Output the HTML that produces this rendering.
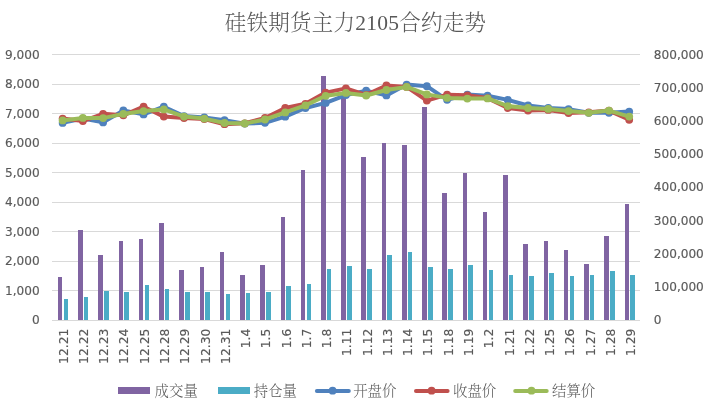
<!DOCTYPE html>
<html lang="zh"><head><meta charset="utf-8"><title>硅铁期货主力2105合约走势</title>
<style>html,body{margin:0;padding:0;background:#fff}svg{display:block}</style></head>
<body>
<svg width="709" height="406" viewBox="0 0 709 406">
<rect width="709" height="406" fill="#fff"/>
<g fill="#D9D9D9" shape-rendering="crispEdges">
<rect x="52.0" y="320" width="588.0" height="1"/>
<rect x="52.0" y="290" width="588.0" height="1"/>
<rect x="52.0" y="261" width="588.0" height="1"/>
<rect x="52.0" y="231" width="588.0" height="1"/>
<rect x="52.0" y="202" width="588.0" height="1"/>
<rect x="52.0" y="172" width="588.0" height="1"/>
<rect x="52.0" y="143" width="588.0" height="1"/>
<rect x="52.0" y="113" width="588.0" height="1"/>
<rect x="52.0" y="84" width="588.0" height="1"/>
<rect x="52.0" y="54" width="588.0" height="1"/>
</g>
<g fill="#8064A2" shape-rendering="crispEdges">
<rect x="58" y="277" width="4" height="43"/>
<rect x="78" y="230" width="5" height="90"/>
<rect x="98" y="255" width="5" height="65"/>
<rect x="119" y="241" width="4" height="79"/>
<rect x="139" y="239" width="4" height="81"/>
<rect x="159" y="223" width="5" height="97"/>
<rect x="179" y="270" width="5" height="50"/>
<rect x="200" y="267" width="4" height="53"/>
<rect x="220" y="252" width="4" height="68"/>
<rect x="240" y="275" width="5" height="45"/>
<rect x="260" y="265" width="5" height="55"/>
<rect x="281" y="217" width="4" height="103"/>
<rect x="301" y="170" width="4" height="150"/>
<rect x="321" y="76" width="5" height="244"/>
<rect x="341" y="96" width="5" height="224"/>
<rect x="361" y="157" width="5" height="163"/>
<rect x="382" y="143" width="4" height="177"/>
<rect x="402" y="145" width="5" height="175"/>
<rect x="422" y="107" width="5" height="213"/>
<rect x="442" y="193" width="5" height="127"/>
<rect x="463" y="173" width="4" height="147"/>
<rect x="483" y="212" width="4" height="108"/>
<rect x="503" y="175" width="5" height="145"/>
<rect x="523" y="244" width="5" height="76"/>
<rect x="544" y="241" width="4" height="79"/>
<rect x="564" y="250" width="4" height="70"/>
<rect x="584" y="264" width="5" height="56"/>
<rect x="604" y="236" width="5" height="84"/>
<rect x="625" y="204" width="4" height="116"/>
</g>
<g fill="#4BACC6" shape-rendering="crispEdges">
<rect x="64" y="299" width="4" height="21"/>
<rect x="84" y="297" width="4" height="23"/>
<rect x="104" y="291" width="5" height="29"/>
<rect x="124" y="292" width="5" height="28"/>
<rect x="145" y="285" width="4" height="35"/>
<rect x="165" y="289" width="4" height="31"/>
<rect x="185" y="292" width="5" height="28"/>
<rect x="205" y="292" width="5" height="28"/>
<rect x="226" y="294" width="4" height="26"/>
<rect x="246" y="293" width="4" height="27"/>
<rect x="266" y="292" width="5" height="28"/>
<rect x="286" y="286" width="5" height="34"/>
<rect x="307" y="284" width="4" height="36"/>
<rect x="327" y="269" width="4" height="51"/>
<rect x="347" y="266" width="5" height="54"/>
<rect x="367" y="269" width="5" height="51"/>
<rect x="387" y="255" width="5" height="65"/>
<rect x="408" y="252" width="4" height="68"/>
<rect x="428" y="267" width="5" height="53"/>
<rect x="448" y="269" width="5" height="51"/>
<rect x="468" y="265" width="5" height="55"/>
<rect x="489" y="270" width="4" height="50"/>
<rect x="509" y="275" width="4" height="45"/>
<rect x="529" y="276" width="5" height="44"/>
<rect x="549" y="273" width="5" height="47"/>
<rect x="570" y="276" width="4" height="44"/>
<rect x="590" y="275" width="4" height="45"/>
<rect x="610" y="271" width="5" height="49"/>
<rect x="630" y="275" width="5" height="45"/>
</g>
<g fill="#4F81BD" stroke="none">
<polyline points="62.63,122.9 82.87,118.6 103.10,122.4 123.34,110.5 143.57,114.4 163.81,106.7 184.04,116.1 204.27,117.4 224.51,120.2 244.75,123.6 264.98,122.8 285.21,116.7 305.45,108.0 325.69,102.9 345.92,95.1 366.15,90.7 386.39,95.4 406.62,84.6 426.86,86.2 447.09,99.8 467.33,94.6 487.56,95.7 507.80,99.9 528.03,105.5 548.27,107.9 568.50,109.1 588.74,112.8 608.98,112.8 629.21,111.6" fill="none" stroke="#4F81BD" stroke-width="4.0" stroke-linejoin="round" stroke-linecap="round"/>
<circle cx="62.63" cy="122.9" r="3.9"/>
<circle cx="82.87" cy="118.6" r="3.9"/>
<circle cx="103.10" cy="122.4" r="3.9"/>
<circle cx="123.34" cy="110.5" r="3.9"/>
<circle cx="143.57" cy="114.4" r="3.9"/>
<circle cx="163.81" cy="106.7" r="3.9"/>
<circle cx="184.04" cy="116.1" r="3.9"/>
<circle cx="204.27" cy="117.4" r="3.9"/>
<circle cx="224.51" cy="120.2" r="3.9"/>
<circle cx="244.75" cy="123.6" r="3.9"/>
<circle cx="264.98" cy="122.8" r="3.9"/>
<circle cx="285.21" cy="116.7" r="3.9"/>
<circle cx="305.45" cy="108.0" r="3.9"/>
<circle cx="325.69" cy="102.9" r="3.9"/>
<circle cx="345.92" cy="95.1" r="3.9"/>
<circle cx="366.15" cy="90.7" r="3.9"/>
<circle cx="386.39" cy="95.4" r="3.9"/>
<circle cx="406.62" cy="84.6" r="3.9"/>
<circle cx="426.86" cy="86.2" r="3.9"/>
<circle cx="447.09" cy="99.8" r="3.9"/>
<circle cx="467.33" cy="94.6" r="3.9"/>
<circle cx="487.56" cy="95.7" r="3.9"/>
<circle cx="507.80" cy="99.9" r="3.9"/>
<circle cx="528.03" cy="105.5" r="3.9"/>
<circle cx="548.27" cy="107.9" r="3.9"/>
<circle cx="568.50" cy="109.1" r="3.9"/>
<circle cx="588.74" cy="112.8" r="3.9"/>
<circle cx="608.98" cy="112.8" r="3.9"/>
<circle cx="629.21" cy="111.6" r="3.9"/>
</g>
<g fill="#C0504D" stroke="none">
<polyline points="62.63,118.6 82.87,121.1 103.10,113.8 123.34,115.3 143.57,106.7 163.81,116.6 184.04,118.1 204.27,119.1 224.51,124.2 244.75,123.3 264.98,118.0 285.21,108.0 305.45,103.8 325.69,92.6 345.92,88.4 366.15,94.8 386.39,85.5 406.62,86.9 426.86,100.6 447.09,94.7 467.33,95.3 487.56,98.1 507.80,108.0 528.03,110.6 548.27,109.9 568.50,113.1 588.74,112.3 608.98,110.6 629.21,119.8" fill="none" stroke="#C0504D" stroke-width="4.0" stroke-linejoin="round" stroke-linecap="round"/>
<circle cx="62.63" cy="118.6" r="3.9"/>
<circle cx="82.87" cy="121.1" r="3.9"/>
<circle cx="103.10" cy="113.8" r="3.9"/>
<circle cx="123.34" cy="115.3" r="3.9"/>
<circle cx="143.57" cy="106.7" r="3.9"/>
<circle cx="163.81" cy="116.6" r="3.9"/>
<circle cx="184.04" cy="118.1" r="3.9"/>
<circle cx="204.27" cy="119.1" r="3.9"/>
<circle cx="224.51" cy="124.2" r="3.9"/>
<circle cx="244.75" cy="123.3" r="3.9"/>
<circle cx="264.98" cy="118.0" r="3.9"/>
<circle cx="285.21" cy="108.0" r="3.9"/>
<circle cx="305.45" cy="103.8" r="3.9"/>
<circle cx="325.69" cy="92.6" r="3.9"/>
<circle cx="345.92" cy="88.4" r="3.9"/>
<circle cx="366.15" cy="94.8" r="3.9"/>
<circle cx="386.39" cy="85.5" r="3.9"/>
<circle cx="406.62" cy="86.9" r="3.9"/>
<circle cx="426.86" cy="100.6" r="3.9"/>
<circle cx="447.09" cy="94.7" r="3.9"/>
<circle cx="467.33" cy="95.3" r="3.9"/>
<circle cx="487.56" cy="98.1" r="3.9"/>
<circle cx="507.80" cy="108.0" r="3.9"/>
<circle cx="528.03" cy="110.6" r="3.9"/>
<circle cx="548.27" cy="109.9" r="3.9"/>
<circle cx="568.50" cy="113.1" r="3.9"/>
<circle cx="588.74" cy="112.3" r="3.9"/>
<circle cx="608.98" cy="110.6" r="3.9"/>
<circle cx="629.21" cy="119.8" r="3.9"/>
</g>
<g fill="#9BBB59" stroke="none">
<polyline points="62.63,120.4 82.87,117.9 103.10,118.1 123.34,113.9 143.57,111.1 163.81,109.4 184.04,116.6 204.27,118.6 224.51,123.0 244.75,123.5 264.98,119.5 285.21,112.4 305.45,105.4 325.69,95.8 345.92,92.9 366.15,95.5 386.39,90.0 406.62,86.9 426.86,94.4 447.09,97.9 467.33,98.6 487.56,98.4 507.80,106.1 528.03,108.0 548.27,108.9 568.50,111.1 588.74,112.8 608.98,110.6 629.21,116.6" fill="none" stroke="#9BBB59" stroke-width="4.0" stroke-linejoin="round" stroke-linecap="round"/>
<circle cx="62.63" cy="120.4" r="3.9"/>
<circle cx="82.87" cy="117.9" r="3.9"/>
<circle cx="103.10" cy="118.1" r="3.9"/>
<circle cx="123.34" cy="113.9" r="3.9"/>
<circle cx="143.57" cy="111.1" r="3.9"/>
<circle cx="163.81" cy="109.4" r="3.9"/>
<circle cx="184.04" cy="116.6" r="3.9"/>
<circle cx="204.27" cy="118.6" r="3.9"/>
<circle cx="224.51" cy="123.0" r="3.9"/>
<circle cx="244.75" cy="123.5" r="3.9"/>
<circle cx="264.98" cy="119.5" r="3.9"/>
<circle cx="285.21" cy="112.4" r="3.9"/>
<circle cx="305.45" cy="105.4" r="3.9"/>
<circle cx="325.69" cy="95.8" r="3.9"/>
<circle cx="345.92" cy="92.9" r="3.9"/>
<circle cx="366.15" cy="95.5" r="3.9"/>
<circle cx="386.39" cy="90.0" r="3.9"/>
<circle cx="406.62" cy="86.9" r="3.9"/>
<circle cx="426.86" cy="94.4" r="3.9"/>
<circle cx="447.09" cy="97.9" r="3.9"/>
<circle cx="467.33" cy="98.6" r="3.9"/>
<circle cx="487.56" cy="98.4" r="3.9"/>
<circle cx="507.80" cy="106.1" r="3.9"/>
<circle cx="528.03" cy="108.0" r="3.9"/>
<circle cx="548.27" cy="108.9" r="3.9"/>
<circle cx="568.50" cy="111.1" r="3.9"/>
<circle cx="588.74" cy="112.8" r="3.9"/>
<circle cx="608.98" cy="110.6" r="3.9"/>
<circle cx="629.21" cy="116.6" r="3.9"/>
</g>
<g font-family="'DejaVu Sans', sans-serif" font-size="12.1" fill="#595959" stroke="#595959" stroke-width="0.15">
<text x="39.7" y="324" text-anchor="end">0</text>
<text x="39.7" y="295" text-anchor="end">1,000</text>
<text x="39.7" y="265" text-anchor="end">2,000</text>
<text x="39.7" y="236" text-anchor="end">3,000</text>
<text x="39.7" y="206" text-anchor="end">4,000</text>
<text x="39.7" y="177" text-anchor="end">5,000</text>
<text x="39.7" y="147" text-anchor="end">6,000</text>
<text x="39.7" y="118" text-anchor="end">7,000</text>
<text x="39.7" y="88" text-anchor="end">8,000</text>
<text x="39.7" y="59" text-anchor="end">9,000</text>
<text x="653.8" y="323.9">0</text>
<text x="653.8" y="290.8">100,000</text>
<text x="653.8" y="257.6">200,000</text>
<text x="653.8" y="224.5">300,000</text>
<text x="653.8" y="191.3">400,000</text>
<text x="653.8" y="158.2">500,000</text>
<text x="653.8" y="125.1">600,000</text>
<text x="653.8" y="91.9">700,000</text>
<text x="653.8" y="58.8">800,000</text>
</g>
<g font-family="'DejaVu Sans', sans-serif" font-size="12.35" fill="#595959" stroke="#595959" stroke-width="0.15" text-anchor="end">
<text transform="translate(67.63,328.6) rotate(-90)">12.21</text>
<text transform="translate(87.90,328.6) rotate(-90)">12.22</text>
<text transform="translate(108.17,328.6) rotate(-90)">12.23</text>
<text transform="translate(128.44,328.6) rotate(-90)">12.24</text>
<text transform="translate(148.71,328.6) rotate(-90)">12.25</text>
<text transform="translate(168.98,328.6) rotate(-90)">12.28</text>
<text transform="translate(189.25,328.6) rotate(-90)">12.29</text>
<text transform="translate(209.52,328.6) rotate(-90)">12.30</text>
<text transform="translate(229.79,328.6) rotate(-90)">12.31</text>
<text transform="translate(250.06,328.6) rotate(-90)">1.4</text>
<text transform="translate(270.33,328.6) rotate(-90)">1.5</text>
<text transform="translate(290.60,328.6) rotate(-90)">1.6</text>
<text transform="translate(310.87,328.6) rotate(-90)">1.7</text>
<text transform="translate(331.14,328.6) rotate(-90)">1.8</text>
<text transform="translate(351.41,328.6) rotate(-90)">1.11</text>
<text transform="translate(371.68,328.6) rotate(-90)">1.12</text>
<text transform="translate(391.95,328.6) rotate(-90)">1.13</text>
<text transform="translate(412.22,328.6) rotate(-90)">1.14</text>
<text transform="translate(432.49,328.6) rotate(-90)">1.15</text>
<text transform="translate(452.76,328.6) rotate(-90)">1.18</text>
<text transform="translate(473.03,328.6) rotate(-90)">1.19</text>
<text transform="translate(493.30,328.6) rotate(-90)">1.2</text>
<text transform="translate(513.57,328.6) rotate(-90)">1.21</text>
<text transform="translate(533.84,328.6) rotate(-90)">1.22</text>
<text transform="translate(554.11,328.6) rotate(-90)">1.25</text>
<text transform="translate(574.38,328.6) rotate(-90)">1.26</text>
<text transform="translate(594.65,328.6) rotate(-90)">1.27</text>
<text transform="translate(614.92,328.6) rotate(-90)">1.28</text>
<text transform="translate(635.19,328.6) rotate(-90)">1.29</text>
</g>
<text x="355.4" y="29.5" text-anchor="middle" font-family="'Liberation Serif', 'Noto Serif CJK SC', serif" font-size="21.5" letter-spacing="0.25" font-weight="300" fill="#595959">硅铁期货主力2105合约走势</text>
<g font-family="'Liberation Serif', 'Noto Serif CJK SC', serif" font-size="14.4" font-weight="300" fill="#595959">
<rect x="118" y="387" width="32" height="7" fill="#8064A2"/>
<text x="154.6" y="396">成交量</text>
<rect x="218" y="387" width="32" height="7" fill="#4BACC6"/>
<text x="253.7" y="396">持仓量</text>
<line x1="316.9" x2="348.8" y1="391" y2="391" stroke="#4F81BD" stroke-width="4.0" stroke-linecap="round"/>
<circle cx="332.6" cy="390.7" r="3.9" fill="#4F81BD"/>
<text x="353.2" y="396">开盘价</text>
<line x1="416.0" x2="447.6" y1="391" y2="391" stroke="#C0504D" stroke-width="4.0" stroke-linecap="round"/>
<circle cx="431.6" cy="390.7" r="3.9" fill="#C0504D"/>
<text x="453" y="396">收盘价</text>
<line x1="515.2" x2="546.7" y1="391" y2="391" stroke="#9BBB59" stroke-width="4.0" stroke-linecap="round"/>
<circle cx="531.5" cy="390.7" r="3.9" fill="#9BBB59"/>
<text x="552" y="396">结算价</text>
</g>
</svg>
</body></html>
